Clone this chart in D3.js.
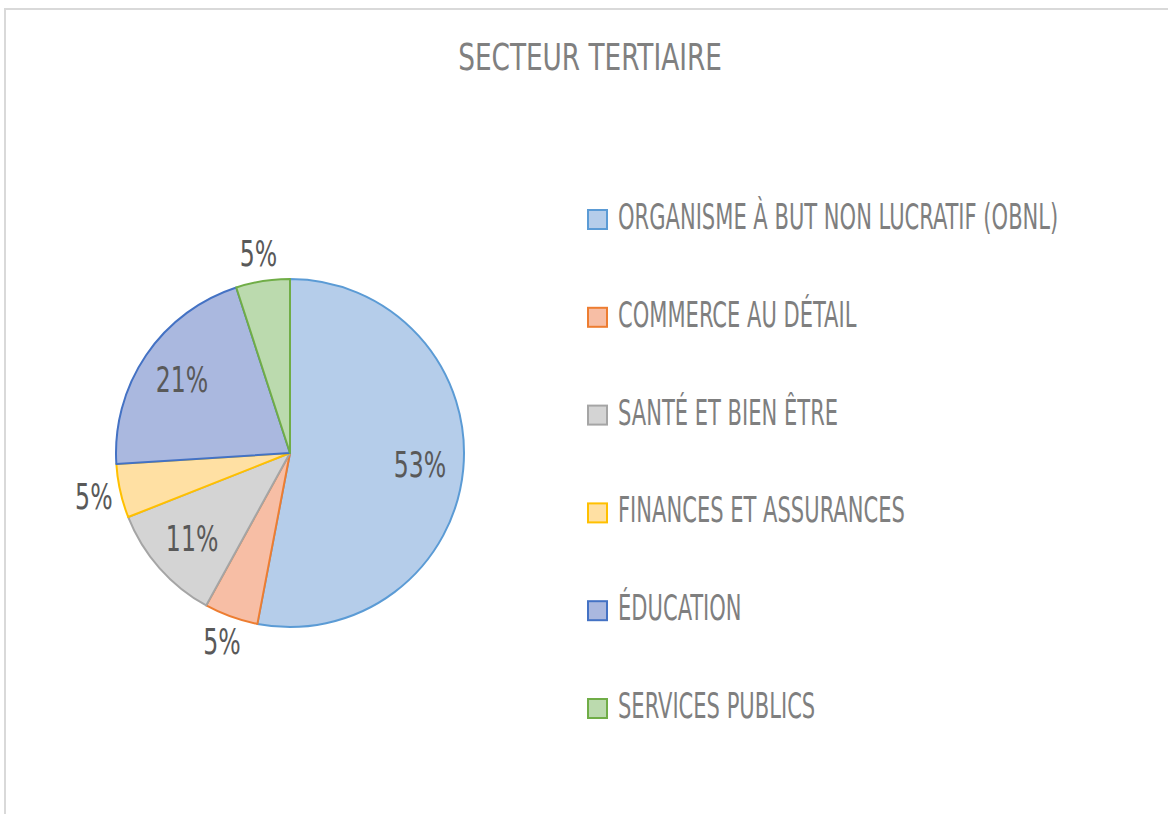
<!DOCTYPE html>
<html lang="fr">
<head>
<meta charset="utf-8">
<title>Secteur tertiaire</title>
<script src="https://d3js.org/d3.v7.min.js"></script>
<style>
  body { margin: 0; background: #fff; }
  text { font-family: "Liberation Sans Narrow", "DejaVu Sans Condensed", "Roboto", sans-serif; }
</style>
</head>
<body>
<script>
// data
var categories = ["ORGANISME À BUT NON LUCRATIF (OBNL)", "COMMERCE AU DÉTAIL", "SANTÉ ET BIEN ÊTRE",
                  "FINANCES ET ASSURANCES", "ÉDUCATION", "SERVICES PUBLICS"];
var values = [53, 5, 11, 5, 21, 5];
var title = "SECTEUR TERTIAIRE";

// colours (top of gradient, bottom of gradient, outline)
var lightCols = ["#b5cdea", "#f7bea5", "#d4d4d4", "#ffe0a3", "#aab8df", "#bbdaae"];
var darkCols  = ["#8cb1e1", "#f4a47f", "#bebebe", "#ffd283", "#859dd6", "#a3cd88"];
var lineCols  = ["#5b9bd5", "#ed7d31", "#a5a5a5", "#ffc000", "#4472c4", "#70ad47"];

var w = 1168, h = 814;
var cx = 290, cy = 453, r = 174;

var svg = d3.select("body").append("svg")
    .attr("width", w)
    .attr("height", h);

// chart frame
svg.append("rect")
    .attr("x", 5).attr("y", 9)
    .attr("width", w + 20).attr("height", h + 20)
    .attr("fill", "none")
    .attr("stroke", "#d9d9d9")
    .attr("stroke-width", 2);

var defs = svg.append("defs");
categories.forEach(function(c, i) {
  var g = defs.append("linearGradient")
      .attr("id", "grad" + i)
      .attr("gradientUnits", "userSpaceOnUse")
      .attr("x1", 0).attr("y1", cy - r)
      .attr("x2", 0).attr("y2", cy + r);
  g.append("stop").attr("offset", "0%").attr("stop-color", lightCols[i]);
  g.append("stop").attr("offset", "100%").attr("stop-color", darkCols[i]);
});

// title
svg.append("text")
    .attr("transform", "translate(590,69.5) scale(0.77,1)")
    .attr("text-anchor", "middle")
    .attr("font-size", 38)
    .attr("fill", "#808080")
    .text(title);

// pie
var pie = d3.pie().sort(null).value(function(d) { return d; });
var arc = d3.arc().innerRadius(0).outerRadius(r);
var arcs = pie(values);

var gPie = svg.append("g").attr("transform", "translate(" + cx + "," + cy + ")");

gPie.selectAll("path")
    .data(arcs)
    .enter()
    .append("path")
    .attr("d", arc)
    .attr("fill", function(d, i) { return "url(#grad" + i + ")"; })
    .attr("stroke", function(d, i) { return lineCols[i]; })
    .attr("stroke-width", 2)
    .attr("stroke-linejoin", "round");

// data labels: small slices outside, large ones inside
var inArc = d3.arc().innerRadius(r * 0.75).outerRadius(r * 0.75);
var outArc = d3.arc().innerRadius(r + 27).outerRadius(r + 27);

gPie.selectAll("text.lbl")
    .data(arcs)
    .enter()
    .append("text")
    .attr("class", "lbl")
    .attr("transform", function(d) {
      var p = (d.data < 8 ? outArc : inArc).centroid(d);
      return "translate(" + p[0] + "," + (p[1] + 12) + ") scale(0.75,1)";
    })
    .attr("text-anchor", "middle")
    .attr("font-size", 35)
    .attr("fill", "#595959")
    .text(function(d) { return d.data + "%"; });

// legend
var legendY = d3.scalePoint()
    .domain(d3.range(categories.length))
    .range([229, 718]);

var legend = svg.selectAll("g.legend")
    .data(categories)
    .enter()
    .append("g")
    .attr("class", "legend")
    .attr("transform", function(d, i) { return "translate(588," + legendY(i) + ")"; });

legend.append("rect")
    .attr("x", 0).attr("y", -19)
    .attr("width", 19).attr("height", 19)
    .attr("fill", function(d, i) { return "url(#grad" + i + ")"; })
    .attr("stroke", function(d, i) { return lineCols[i]; })
    .attr("stroke-width", 2);

legend.append("text")
    .attr("transform", "translate(30,0) scale(0.65,1)")
    .attr("font-size", 36)
    .attr("fill", "#7f7f7f")
    .text(function(d) { return d; });
</script>
</body>
</html>
